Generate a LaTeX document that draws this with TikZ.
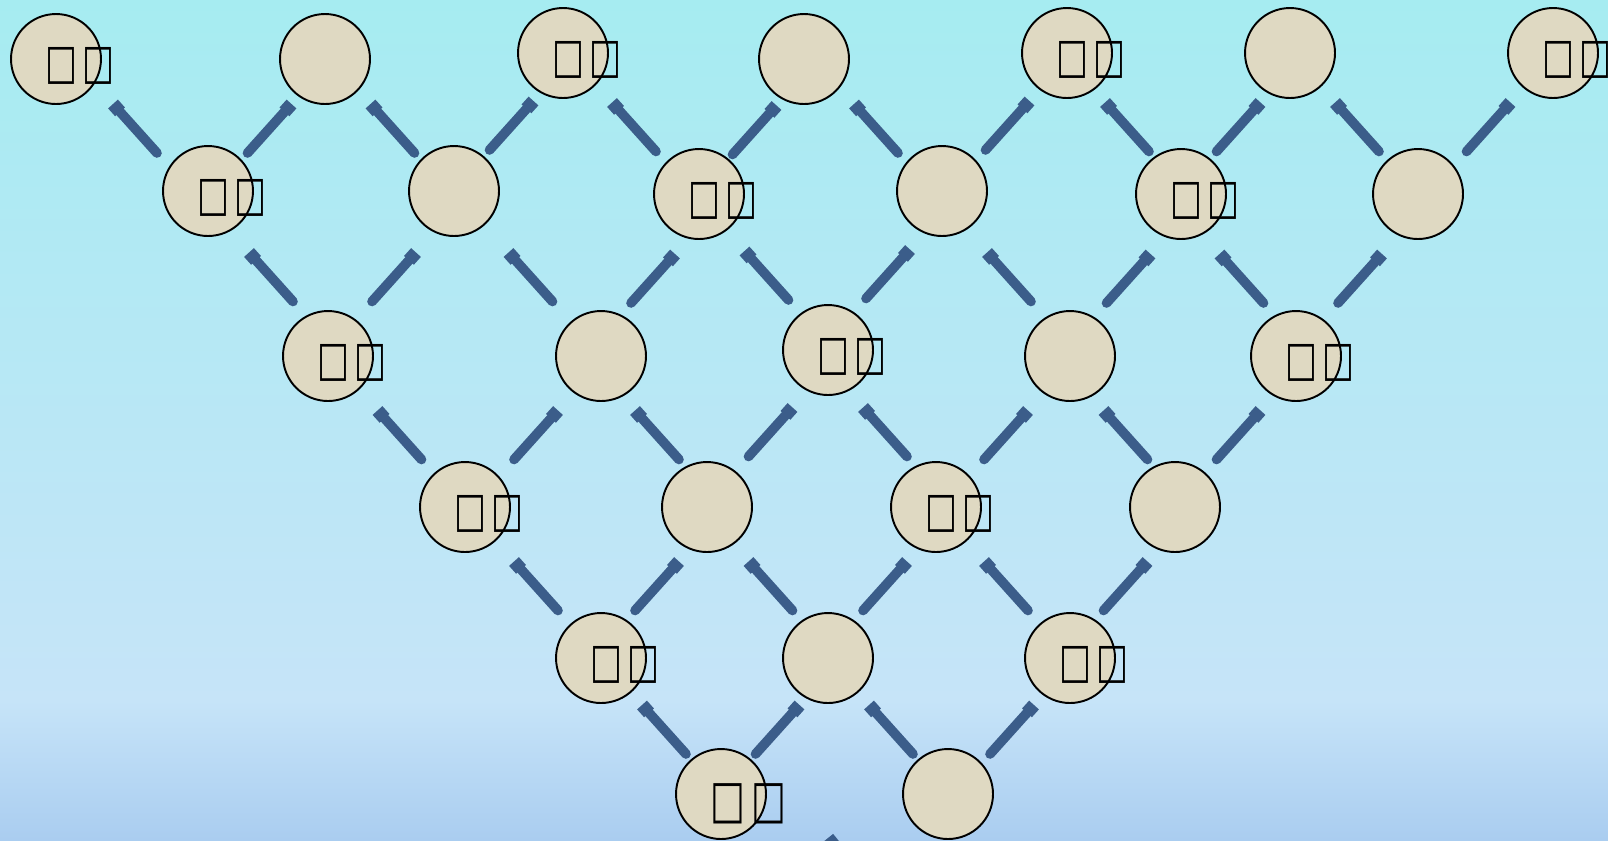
\documentclass[tikz,border=0pt]{standalone}
\usepackage{fontspec}
\usetikzlibrary{positioning, calc, arrows.meta}
\newfontfamily\boxfont[FakeStretch=0.7]{DejaVu Sans}
\definecolor{skytop}{RGB}{166,236,241}
\definecolor{skymid}{RGB}{198,228,248}
\definecolor{skybot}{RGB}{170,205,240}
\definecolor{ballfill}{RGB}{223,217,194}
\definecolor{linkblue}{RGB}{59,93,138}

\begin{document}
\begin{tikzpicture}[
        x=0.02cm, y=-0.02cm,
        % Styles
        ball/.style={circle, draw, line width=1.1pt, fill=ballfill, minimum size=1.8cm, inner sep=0pt},
        word/.style={font=\boxfont\fontsize{27.5}{31}\selectfont, xshift=0.48cm, yshift=-0.14cm, inner sep=0pt},
        bigword/.style={font=\boxfont\fontsize{30}{34}\selectfont, xshift=0.54cm, yshift=-0.19cm, inner sep=0pt},
        tagged/.style={ball, label={[word]center:□\hspace{3pt}□}},
        link/.style={draw=linkblue, line width=5.5pt, line cap=round, -{Square[length=6pt, width=7.5pt]}},
    ]
        % === Background ===
        \useasboundingbox (0,0) rectangle (1608,840);
        \clip (0,0) rectangle (1608,840);
        \shade[top color=skytop, bottom color=skymid] (0,0) rectangle (1608,701);
        \shade[top color=skymid, bottom color=skybot] (0,700) rectangle (1608,840);

        % === Row A (top) ===
        \node[tagged] (A0) at (56,59) {};
        \node[ball] (A1) at (325,59) {};
        \node[tagged] (A2) at (563,53) {};
        \node[ball] (A3) at (804,59) {};
        \node[tagged] (A4) at (1067,53) {};
        \node[ball] (A5) at (1290,53) {};
        \node[tagged] (A6) at (1553,53) {};

        % === Row B ===
        \node[tagged] (B0) at (208,191) {};
        \node[ball] (B1) at (454,191) {};
        \node[tagged] (B2) at (699,194) {};
        \node[ball] (B3) at (942,191) {};
        \node[tagged] (B4) at (1181,194) {};
        \node[ball] (B5) at (1418,194) {};

        % === Row C ===
        \node[tagged] (C0) at (328,356) {};
        \node[ball] (C1) at (601,356) {};
        \node[tagged] (C2) at (828,350) {};
        \node[ball] (C3) at (1070,356) {};
        \node[tagged] (C4) at (1296,356) {};

        % === Row D ===
        \node[tagged] (D0) at (465,507) {};
        \node[ball] (D1) at (707,507) {};
        \node[tagged] (D2) at (936,507) {};
        \node[ball] (D3) at (1175,507) {};

        % === Row E ===
        \node[tagged] (E0) at (601,658) {};
        \node[ball] (E1) at (828,658) {};
        \node[tagged] (E2) at (1070,658) {};

        % === Row F (bottom) ===
        \node[ball, label={[bigword]center:□\hspace{3.5pt}□}] (F0) at (721,794) {};
        \node[ball] (F1) at (948,794) {};

        % === Links: each lower ball points to the two balls above it ===
        \foreach \lo/\hi/\s in {B0/A0/-1, B0/A1/1, B1/A1/-1, B1/A2/1, B2/A2/-1, B2/A3/1,
                B3/A3/-1, B3/A4/1, B4/A4/-1, B4/A5/1, B5/A5/-1, B5/A6/1,
                C0/B0/-1, C0/B1/1, C1/B1/-1, C1/B2/1, C2/B2/-1, C2/B3/1,
                C3/B3/-1, C3/B4/1, C4/B4/-1, C4/B5/1,
                D0/C0/-1, D0/C1/1, D1/C1/-1, D1/C2/1, D2/C2/-1, D2/C3/1, D3/C3/-1, D3/C4/1,
                E0/D0/-1, E0/D1/1, E1/D1/-1, E1/D2/1, E2/D2/-1, E2/D3/1,
                F0/E0/-1, F0/E1/1, F1/E1/-1, F1/E2/1}
            \draw[link] ($(\lo)!.5!(\hi)+({3-22*(\s)},28)$) -- ($(\lo)!.5!(\hi)+({3+22*(\s)},-21)$);

        % link coming up from below the frame
        \coordinate (G0) at (870,890);
        \coordinate (G0tip) at (828,838);
        \draw[link] (G0) -- (G0tip);
    \end{tikzpicture}
\end{document}
